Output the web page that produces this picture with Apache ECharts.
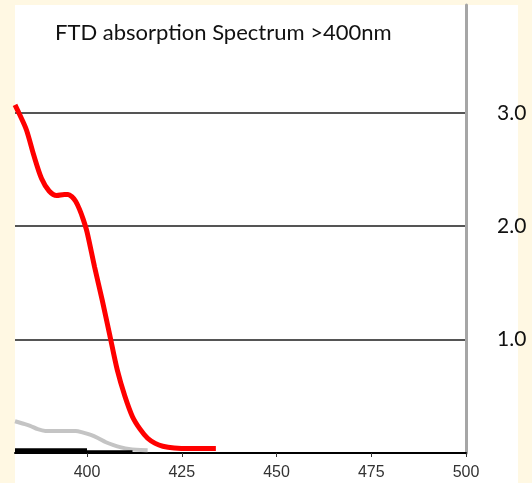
<!DOCTYPE html>
<html>
<head>
<meta charset="utf-8">
<script src="https://cdn.jsdelivr.net/npm/echarts@6/dist/echarts.min.js"></script>
<style>
html,body{margin:0;padding:0;background:#FFF8E3;}
#bg{position:absolute;left:15px;top:5px;width:503px;height:478px;background:#ffffff;}
#chart{position:absolute;left:0;top:0;width:532px;height:483px;}
</style>
</head>
<body>
<div id="bg"></div>
<div id="chart"></div>
<script>
// wavelength (nm) / absorbance pairs
const redWl   = [381, 382, 384, 386, 388, 390, 392, 394, 395, 396, 397, 398, 399, 400, 402, 404, 406, 408, 410, 412, 414, 416, 418, 420, 423, 427, 434];
const redVal  = [3.07, 3.00, 2.85, 2.62, 2.42, 2.31, 2.27, 2.28, 2.28, 2.26, 2.22, 2.15, 2.06, 1.95, 1.64, 1.35, 1.04, 0.73, 0.50, 0.32, 0.21, 0.13, 0.085, 0.06, 0.045, 0.04, 0.04];
const grayWl  = [381, 383, 385, 387, 389, 392, 395, 397, 399, 401, 403, 405, 407, 409, 411, 413, 416];
const grayVal = [0.28, 0.26, 0.24, 0.21, 0.195, 0.195, 0.195, 0.195, 0.18, 0.16, 0.13, 0.095, 0.07, 0.05, 0.035, 0.028, 0.025];
const blackAWl  = [381, 400];
const blackAVal = [0.02, 0.02];
const blackBWl  = [381, 412];
const blackBVal = [0.01, 0.01];
const xTicks = [400, 425, 450, 475, 500];
const yLabels = [1, 2, 3];
const titleText = 'FTD absorption Spectrum >400nm';

const pairs = (xs, ys) => xs.map((x, i) => [x, ys[i]]);

const chart = echarts.init(document.getElementById('chart'));
chart.setOption({
  animation: false,
  backgroundColor: 'transparent',
  title: {
    text: titleText,
    left: 50, top: 17,
    textStyle: {fontFamily: 'Lato', fontSize: 22, fontWeight: 'normal', color: '#111'}
  },
  grid: {left: 15, right: 66, top: 5, bottom: 30},
  xAxis: {
    type: 'value', min: 381, max: 500,
    axisLine: {show: true, onZero: false, lineStyle: {color: '#000', width: 2}},
    axisTick: {show: true, customValues: xTicks, length: 4, lineStyle: {color: '#333', width: 1}},
    axisLabel: {customValues: xTicks, margin: 12, fontFamily: 'Liberation Sans', fontSize: 16, color: '#333'},
    splitLine: {show: false}
  },
  yAxis: {
    type: 'value', position: 'right', min: 0, max: 3.95, interval: 1,
    axisLine: {show: true, lineStyle: {color: '#a6a6a6', width: 3}},
    axisTick: {show: false},
    axisLabel: {
      margin: 31, fontFamily: 'Lato', fontSize: 21, color: '#111',
      formatter: v => (yLabels.indexOf(v) >= 0 ? v.toFixed(1) : '')
    },
    splitLine: {show: true, showMinLine: false, showMaxLine: false, lineStyle: {color: '#555', width: 2}}
  },
  series: [
    {type: 'line', data: pairs(grayWl, grayVal), smooth: 0.3, showSymbol: false, lineStyle: {color: '#c4c4c4', width: 4}},
    {type: 'line', data: pairs(blackBWl, blackBVal), showSymbol: false, lineStyle: {color: '#000', width: 3}},
    {type: 'line', data: pairs(blackAWl, blackAVal), showSymbol: false, lineStyle: {color: '#000', width: 5}},
    {type: 'line', data: pairs(redWl, redVal), smooth: 0.3, showSymbol: false, lineStyle: {color: '#ff0000', width: 5}}
  ]
});
</script>
</body>
</html>
